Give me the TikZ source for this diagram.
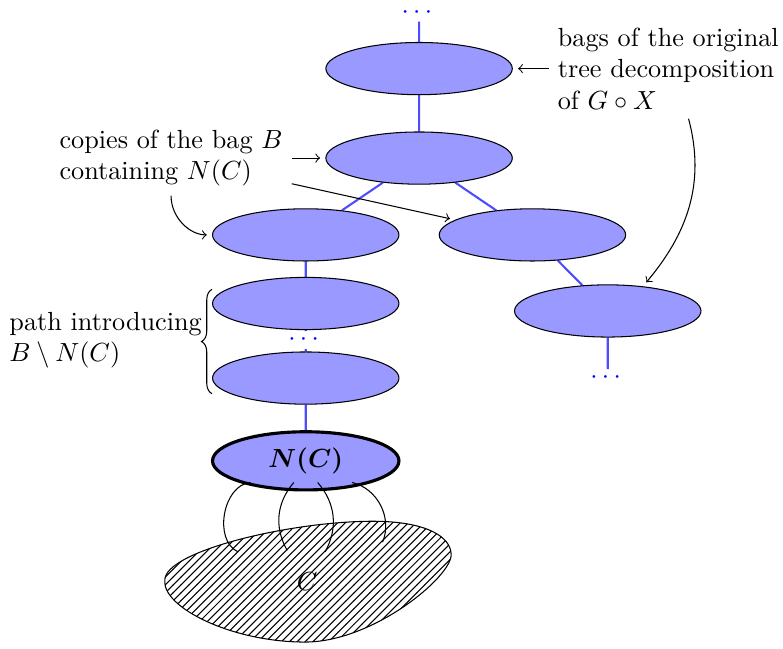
\documentclass[tikz,border=0pt]{standalone}
\usepackage{amsmath,amssymb}
\usepackage{xcolor}
\usepackage{tikz}
\usetikzlibrary{positioning,backgrounds,calc,patterns,shapes.geometric,decorations.pathreplacing}
\definecolor{bagfill}{RGB}{153,153,255}
\definecolor{tblue}{RGB}{77,77,255}
\tikzset{
  bag/.style  ={ellipse, draw=black, fill=bagfill, minimum width=2.5cm,
                minimum height=0.7cm, inner sep=0pt},
  nbag/.style ={bag, very thick, minimum height=0.78cm, font=\boldmath},
  dots/.style ={text=blue, inner sep=1pt},
  tr/.style   ={draw=tblue, thick},
  ar/.style   ={->, shorten >=2pt},
  lbl/.style  ={align=left}
}

\begin{document}
\begin{tikzpicture}
\useasboundingbox (0,0) rectangle (10.5,8.69);
% bags of the decomposition
\node[bag] (top) at (5.62,7.77) {};
\node[bag] (b2) at (5.62,6.57) {};
\node[bag] (lft) at (4.10,5.54) {};
\node[bag] (rgt) at (7.14,5.54) {};
\node[bag] (far) at (8.15,4.52) {};
\node[bag] (p1) at (4.10,4.62) {};
\node[bag] (p2) at (4.10,3.62) {};
\node[nbag] (nc) at (4.10,2.51) {$N(C)$};
\node[dots] (dtop) at (5.62,8.52) {$\cdots$};
\node[dots] (dd) at (4.10,4.13) {$\cdots$};
\node[dots] (dfar) at (8.15,3.62) {$\cdots$};
\begin{scope}[on background layer]
\draw[tr] (dtop) -- (top) -- (b2) -- (lft) -- (p1) -- (dd) -- (p2) -- (nc);
\draw[tr] (b2) -- (rgt) -- (far) -- (dfar);
\end{scope}
% the component C
\draw[pattern=north east lines] (2.21,0.91) .. controls (2.21,1.3) and (3.9,1.70) .. (5.0,1.70)
  .. controls (5.7,1.70) and (6.05,1.5) .. (6.05,1.25)
  .. controls (6.05,0.95) and (5.0,0.08) .. (4.09,0.08)
  .. controls (3.1,0.08) and (2.17,0.55) .. (2.21,0.91) -- cycle;
\node (c) at (4.12,0.89) {$C$};
\coordinate (c1) at (3.19,1.29);
\coordinate (c2) at (3.85,1.31);
\coordinate (c3) at (4.36,1.29);
\coordinate (c4) at (5.13,1.42);
\draw ([shift={(-0.74,-0.29)}]nc.center) to[bend right=75] (c1);
\draw ([shift={(-0.16,-0.29)}]nc.center) to[bend right=35] (c2);
\draw ([shift={(0.16,-0.29)}]nc.center) to[bend left=35] (c3);
\draw ([shift={(0.62,-0.29)}]nc.center) to[bend left=50] (c4);
% labels
\node[lbl, right=0.48cm of top] (orig) {bags of the original\\tree decomposition\\of $G\circ X$};
\node[lbl, left=0.45cm of b2] (copies) {copies of the bag $B$\\containing $N(C)$};
\node[lbl, inner sep=0pt, anchor=east] (intro) at ($(p1.west |- dd)+(-0.13,0)$)
  {path introducing\\$B\setminus N(C)$};
\draw[decorate, decoration={brace, amplitude=4pt}]
  ([yshift=-0.21cm]p2.west) -- ([yshift=0.19cm]p1.west);
\draw[ar] (orig) -- (top);
\draw[ar] (orig.-68) to[out=-75, in=50] (far.35);
\draw[ar] (copies) -- (b2);
\draw[ar] (copies.-12) -- (rgt.169);
\draw[ar] (copies.south) to[out=-90, in=180] (lft.west);
\end{tikzpicture}
\end{document}
